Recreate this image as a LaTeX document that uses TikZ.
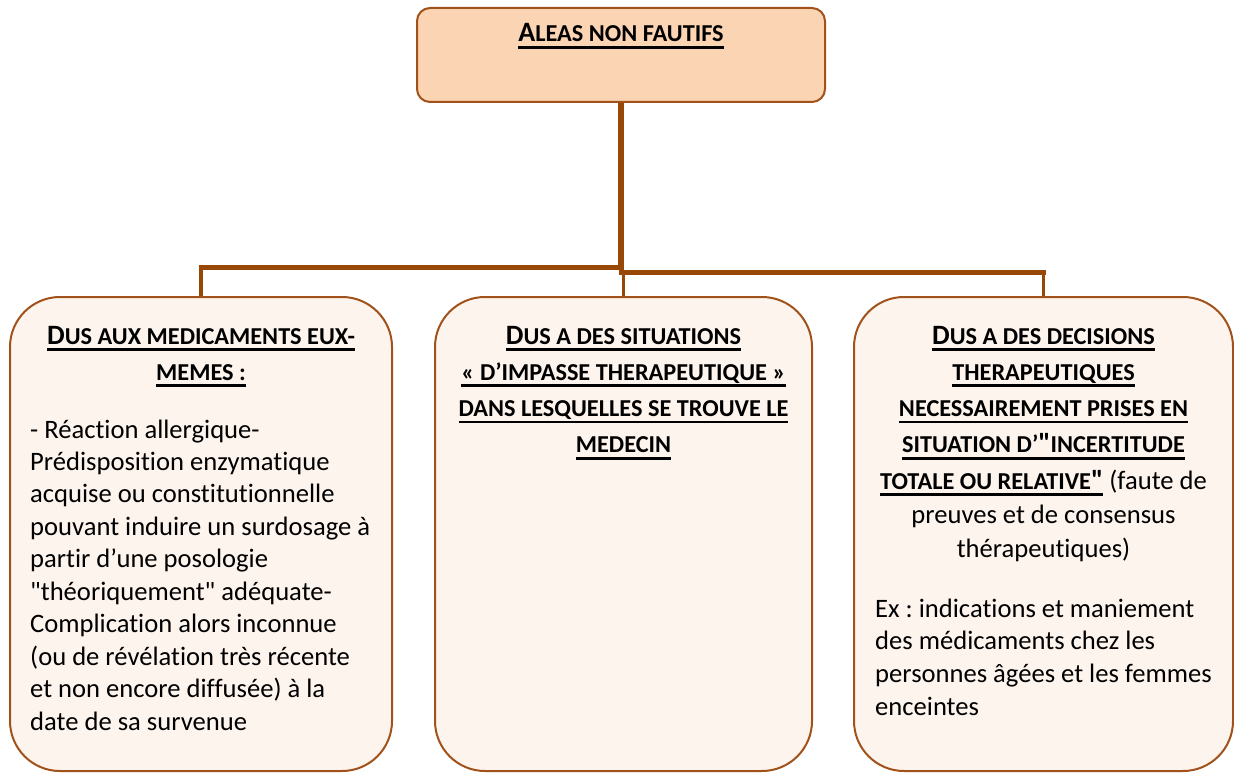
\documentclass[tikz,border=0pt]{standalone}
\usepackage{fontspec}
\newfontfamily\calfont{Carlito}[Ligatures=NoCommon]
\definecolor{brn}{HTML}{984806}
\definecolor{boxline}{HTML}{A0521A}
\definecolor{peach}{HTML}{FBD4B4}
\definecolor{cream}{HTML}{FEF4EE}
\frenchspacing
\newcommand\uln[1]{\setbox0=\hbox{#1}\rlap{\rule[-6.6pt]{\wd0}{2.5pt}}\box0}
\newcommand\bgl[1]{{\fontsize{28}{36.5}\selectfont #1}}
\newcommand\clines[2]{\vtop{\baselineskip=#1\lineskiplimit=-100pt\lineskip=0pt\halign{\hfil##\hfil\cr#2\crcr}}}
\newcommand\llines[2]{\vtop{\baselineskip=#1\lineskiplimit=-100pt\lineskip=0pt\halign{##\hfil\cr#2\crcr}}}
\tikzset{
  topbox/.style={draw=boxline, line width=2pt, fill=peach, rounded corners=13pt, inner sep=0pt},
  lowbox/.style={draw=boxline, line width=2pt, fill=cream, rounded corners=50pt, inner sep=0pt},
  bar/.style={draw=brn, line width=5pt, line cap=rect},
  trunk/.style={draw=brn, line width=6pt},
  drop/.style={draw=brn, line width=3.2pt},
  head/.style={inner sep=0pt, anchor=base, font=\calfont\frenchspacing\fontsize{24.3}{36.5}\bfseries\selectfont},
  body/.style={inner sep=0pt, font=\calfont\frenchspacing\fontsize{26.6}{32.5}\selectfont},
}
\begin{document}
\begin{tikzpicture}[x=1pt,y=-1pt]
\useasboundingbox (0,0) rectangle (1234,773);
% boxes
\node[topbox, minimum width=408pt, minimum height=94pt] (top) at (621,55) {};
\node[lowbox, minimum width=382pt, minimum height=474pt] (left) at (201,534) {};
\node[lowbox, minimum width=377pt, minimum height=474pt] (mid) at (623.5,534) {};
\node[lowbox, minimum width=379pt, minimum height=474pt] (right) at (1043.5,534) {};
% connectors
\path (top.south) ++(0,164.5) coordinate (jl);
\path (top.south) ++(0,169.5) coordinate (jr);
\draw[trunk] (top.south) -- ([yshift=2.5pt]jr);
\draw[bar] (jl) -- (jl -| left.north);
\draw[bar] (jr) -- (jr -| right.north);
\draw[drop] (jl -| left.north) -- (left.north);
\draw[drop] (jr -| mid.north) -- (mid.north);
\draw[drop] (jr -| right.north) -- (right.north);
% texts
\node[head] (ttl) at (621,42) {\uln{\bgl{A}LEAS NON FAUTIFS}};
\node[head] (lh) at (201,344) {\clines{36.3pt}{\uln{\bgl{D}US AUX MEDICAMENTS EUX-}\cr \uln{MEMES :}}};
\node[body, anchor=base west] (lb) at (30,438) {\llines{32.45pt}{- Réaction allergique-\cr
Prédisposition enzymatique\cr
acquise ou constitutionnelle\cr
pouvant induire un surdosage à\cr
partir d’une posologie\cr
"théoriquement" adéquate-\cr
Complication alors inconnue\cr
(ou de révélation très récente\cr
et non encore diffusée) à la\cr
date de sa survenue}};
\node[head] (mh) at (623.5,344) {\clines{36.3pt}{\uln{\bgl{D}US A DES SITUATIONS}\cr
\uln{« D’IMPASSE THERAPEUTIQUE »}\cr
\uln{DANS LESQUELLES SE TROUVE LE}\cr
\uln{MEDECIN}}};
\node[head] (rh) at (1043.5,344) {\clines{36.3pt}{\uln{\bgl{D}US A DES DECISIONS}\cr
\uln{THERAPEUTIQUES}\cr
\uln{NECESSAIREMENT PRISES EN}\cr
\uln{SITUATION D’\bgl{"}INCERTITUDE}\cr
\uln{TOTALE OU RELATIVE\bgl{"}}{\mdseries\fontsize{26.6}{32.5}\selectfont\ (faute de}}};
\node[body, anchor=base] (rd) at (1043.5,523) {\clines{34.7pt}{preuves et de consensus\cr thérapeutiques)}};
\node[body, anchor=base west] (rex) at (875,617) {\llines{32.7pt}{Ex : indications et maniement\cr
des médicaments chez les\cr
personnes âgées et les femmes\cr
enceintes}};
\end{tikzpicture}
\end{document}
